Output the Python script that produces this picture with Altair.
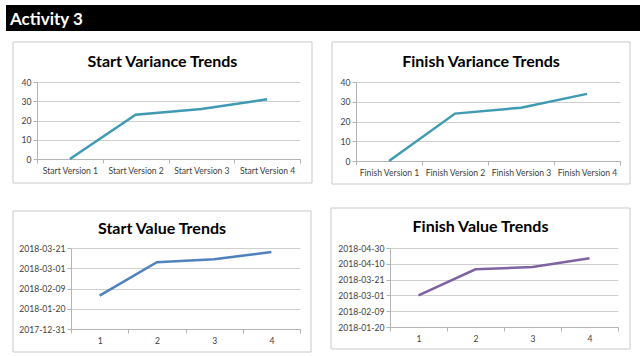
import altair as alt
import pandas as pd

# ---- data ----
start_var_cats = ["Start Version 1", "Start Version 2", "Start Version 3", "Start Version 4"]
start_var_vals = [0, 23, 26, 31]
finish_var_cats = ["Finish Version 1", "Finish Version 2", "Finish Version 3", "Finish Version 4"]
finish_var_vals = [0, 24, 27, 34]
versions = ["1", "2", "3", "4"]
start_dates = ["2018-02-02", "2018-03-07", "2018-03-10", "2018-03-17"]
finish_dates = ["2018-03-01", "2018-04-03", "2018-04-06", "2018-04-17"]
var_ticks = [0, 10, 20, 30, 40]
start_date_ticks = [(2017, 12, 31), (2018, 1, 20), (2018, 2, 9), (2018, 3, 1), (2018, 3, 21)]
finish_date_ticks = [(2018, 1, 20), (2018, 2, 9), (2018, 3, 1), (2018, 3, 21), (2018, 4, 10), (2018, 4, 30)]
header_text = "Activity 3"
titles = ["Start Variance Trends", "Finish Variance Trends", "Start Value Trends", "Finish Value Trends"]

FONT = "Lato"
LABEL_COLOR = "#404040"
GRID = "#CFCFCF"
DOMAIN = "#B4B4B4"
BORDER = "#C9C9C9"
LABEL_SIZE = 8.6
TITLE_SIZE = 16

one = pd.DataFrame({"k": [0]})


def dt(t):
    return alt.DateTime(year=t[0], month=t[1], date=t[2], utc=True)


def xenc(sort):
    return alt.X(
        "cat:N",
        sort=sort,
        bandPosition=0.5,
        scale=alt.Scale(type="band", paddingInner=0, paddingOuter=0),
        axis=alt.Axis(
            title=None, labelAngle=0, tickBand="extent", grid=False,
            domainColor=DOMAIN, tickColor=DOMAIN, tickSize=4, labelPadding=3,
            labelFontSize=LABEL_SIZE, labelColor=LABEL_COLOR, labelFont=FONT,
        ),
    )


def yaxis(**kw):
    return alt.Axis(
        title=None, grid=True, gridColor=GRID, domainColor=DOMAIN, tickColor=DOMAIN,
        tickSize=4, labelPadding=2, labelFontSize=LABEL_SIZE, labelColor=LABEL_COLOR,
        labelFont=FONT, **kw,
    )


def panel(df, sort, yenc, color, w, h, box, title, tpos):
    border = alt.Chart(one).mark_rect(filled=False, stroke=BORDER, strokeWidth=1).encode(
        x=alt.value(box[0]), x2=alt.value(box[1]), y=alt.value(box[2]), y2=alt.value(box[3])
    )
    line = alt.Chart(df).mark_line(color=color, strokeWidth=2.5).encode(
        x=xenc(sort), y=yenc
    )
    ttl = alt.Chart(pd.DataFrame({"t": [title]})).mark_text(
        font=FONT, fontSize=TITLE_SIZE, fontWeight="bold", color="#000000",
        align="center", baseline="alphabetic",
    ).encode(text="t:N", x=alt.value(tpos[0]), y=alt.value(tpos[1]))
    return alt.layer(border, line, ttl).properties(width=w, height=h)


def spacer():
    return alt.Chart(one).mark_rect(color="white").encode(
        x=alt.value(0), x2=alt.value(1), y=alt.value(0), y2=alt.value(1)
    ).properties(width=1, height=1)


df1 = pd.DataFrame({"cat": start_var_cats, "v": start_var_vals})
df2 = pd.DataFrame({"cat": finish_var_cats, "v": finish_var_vals})
df3 = pd.DataFrame({"cat": versions, "d": start_dates})
df4 = pd.DataFrame({"cat": versions, "d": finish_dates})

y1 = alt.Y("v:Q", scale=alt.Scale(domain=[0, 40]), axis=yaxis(values=var_ticks))
y2 = alt.Y("v:Q", scale=alt.Scale(domain=[0, 40]), axis=yaxis(values=var_ticks))
y3 = alt.Y(
    "d:T",
    scale=alt.Scale(type="utc", domain=[dt(start_date_ticks[0]), dt(start_date_ticks[-1])]),
    axis=yaxis(values=[dt(t) for t in start_date_ticks], format="%Y-%m-%d"),
)
y4 = alt.Y(
    "d:T",
    scale=alt.Scale(type="utc", domain=[dt(finish_date_ticks[0]), dt(finish_date_ticks[-1])]),
    axis=yaxis(values=[dt(t) for t in finish_date_ticks], format="%Y-%m-%d"),
)

# plot origins (abs): P1 (37,82) P2 (356,82) P3 (72,248) P4 (390,248)
p1 = panel(df1, start_var_cats, y1, "#3F9AB3", 263, 77, (-24, 275, -40, 101), titles[0], (125.5, -15.5))
p2 = panel(df2, finish_var_cats, y2, "#3F9AB3", 264, 79, (-24, 274, -40, 102), titles[1], (125, -15.5))
p3 = panel(df3, versions, y3, "#4F81BD", 229, 81, (-58, 240, -37, 104), titles[2], (91, -14))
p4 = panel(df4, versions, y4, "#7E62A1", 228, 79, (-59, 240, -40, 101), titles[3], (90.5, -16.5))

header_bg = alt.Chart(one).mark_rect(color="black").encode(
    x=alt.value(0), x2=alt.value(634), y=alt.value(0), y2=alt.value(26)
)
header_txt = alt.Chart(pd.DataFrame({"t": [header_text]})).mark_text(
    font=FONT, fontSize=17, fontWeight="bold", color="white", align="left", baseline="alphabetic"
).encode(text="t:N", x=alt.value(4), y=alt.value(20))
header = alt.layer(header_bg, header_txt).properties(width=634, height=26)

row1 = alt.hconcat(spacer(), alt.hconcat(p1, p2, spacing=18), spacing=5)
row2 = alt.hconcat(spacer(), alt.hconcat(p3, p4, spacing=18), spacing=5)
rows = alt.vconcat(row1, row2, spacing=22)

chart = (
    alt.vconcat(header, rows, spacing=10)
    .properties(padding={"left": 6, "top": 5, "right": 0, "bottom": 0}, background="white")
    .configure_view(strokeWidth=0)
)

chart.save("out.html", embed_options={"renderer": "svg", "actions": False})
